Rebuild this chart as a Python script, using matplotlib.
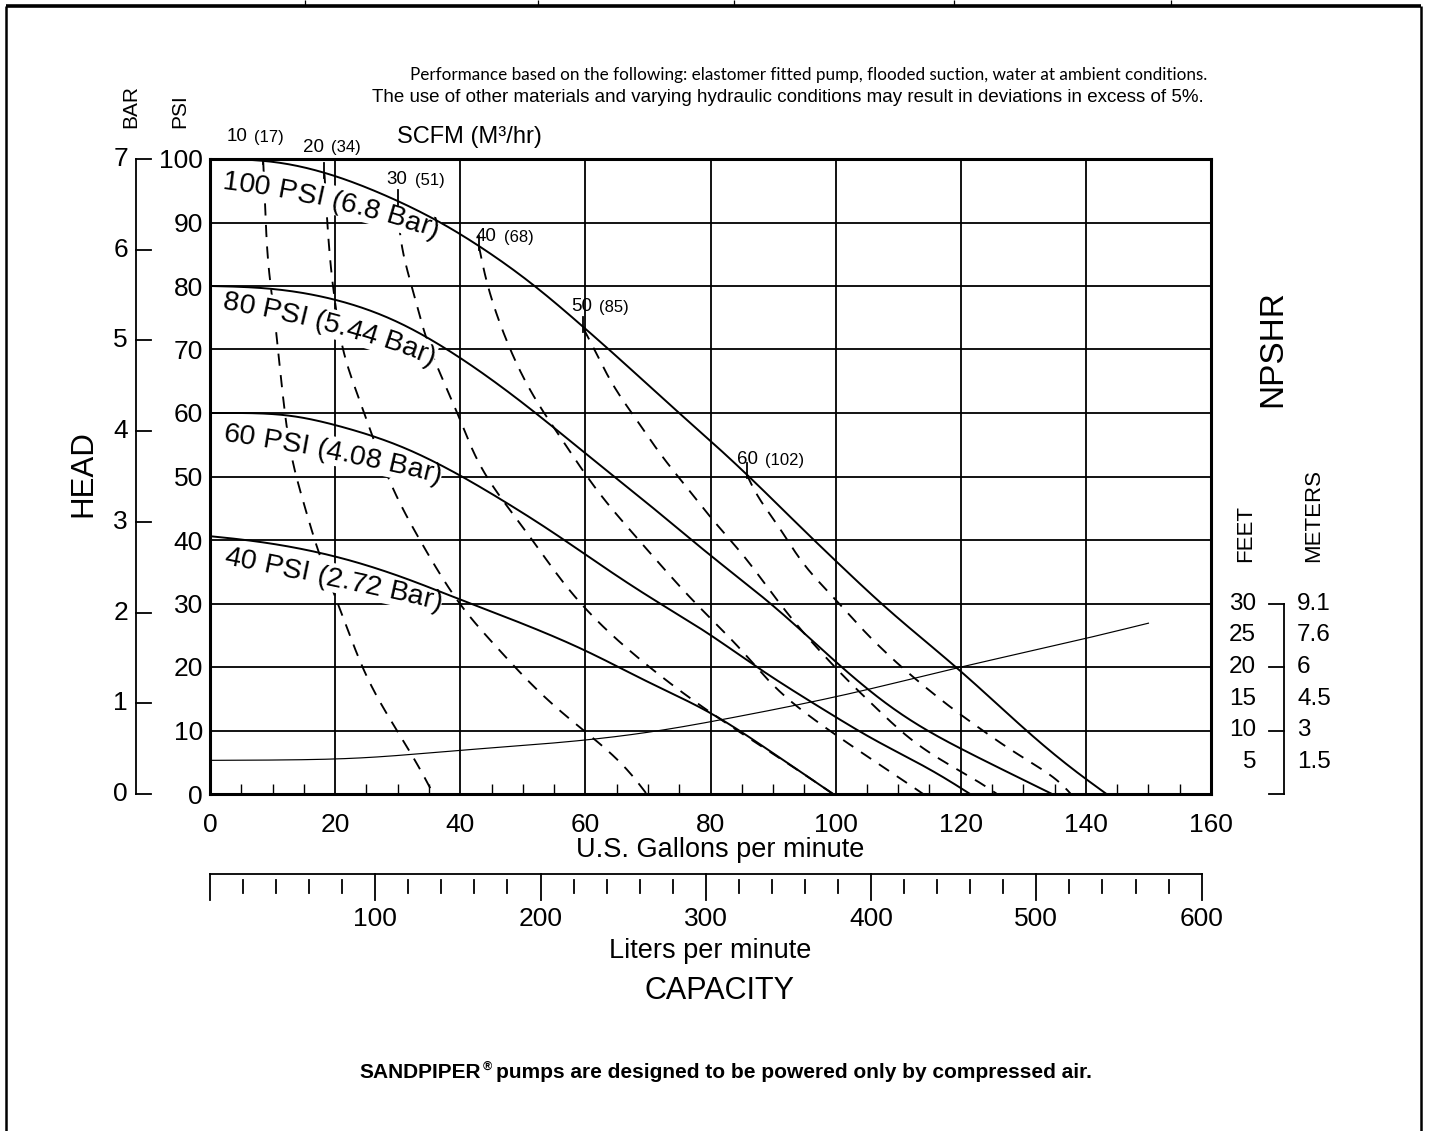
import numpy as np
import matplotlib
matplotlib.use("Agg")
import matplotlib.pyplot as plt
from matplotlib import transforms as mtrans
from matplotlib.lines import Line2D
from matplotlib.patches import Polygon
from matplotlib.font_manager import FontProperties, findfont
from matplotlib.ticker import MultipleLocator

# ---------------- data ----------------
GPM_TICKS = [0, 20, 40, 60, 80, 100, 120, 140, 160]
PSI_TICKS = [0, 10, 20, 30, 40, 50, 60, 70, 80, 90, 100]
BAR_TICKS = [0, 1, 2, 3, 4, 5, 6, 7]
LPM_MAJOR = [0, 100, 200, 300, 400, 500, 600]
LPM_LABELS = [100, 200, 300, 400, 500, 600]
FEET_LABELS = [30, 25, 20, 15, 10, 5]
FEET_TICKS = [30, 20, 10, 0]
METER_LABELS = ["9.1", "7.6", "6", "4.5", "3", "1.5"]

# pump head curves (gpm, psi)
P100_GPM = [0, 8.5, 20, 30, 36.8, 43, 52.2, 60, 64, 74.9, 80, 87.9, 96.4, 100, 107.1, 120, 130.3, 140, 143.3]
P100_PSI = [100, 99.8, 97.3, 93.3, 90.1, 86.2, 79.9, 73.1, 69.9, 59.9, 55.7, 48.4, 40, 36.9, 30, 19.5, 10.1, 2.2, 0]
P80_GPM = [0, 9.6, 20, 30, 36.8, 40.1, 52.2, 60, 64.5, 71.4, 80, 89.8, 100, 110.9, 120, 125.8, 134.6]
P80_PSI = [80, 79.6, 77.8, 74.4, 70.6, 68.6, 59.9, 53.6, 50, 44.7, 37.4, 30, 20.8, 12.2, 7.2, 4.3, 0]
P60_GPM = [0, 11.7, 20, 30, 36.8, 40.1, 47.4, 54.3, 59.7, 71.8, 80, 86.5, 100, 106, 113.5, 120, 121.5]
P60_PSI = [60, 59.8, 58, 55, 51.8, 50.1, 45.8, 41.6, 37.9, 30, 25.2, 20.5, 12.2, 8.5, 4.8, 1.1, 0]
P40_GPM = [0, 10, 20, 30, 40, 50, 60, 70, 80, 90, 99.6]
P40_PSI = [40.6, 39.4, 37.4, 34.4, 30.6, 26.8, 22.6, 17.6, 12.8, 6.4, 0]
PRESSURE_LABELS = ["100 PSI (6.8 Bar)", "80 PSI (5.44 Bar)", "60 PSI (4.08 Bar)", "40 PSI (2.72 Bar)"]

# NPSHR curve (gpm, feet)
NPSH_GPM = [0, 20, 40, 60, 72, 80, 100, 120, 140, 150]
NPSH_FT = [5.3, 5.5, 6.9, 8.5, 10, 11.4, 15.3, 20, 24.5, 26.9]

# air consumption curves (gpm, psi), dashed
SCFM_VALUES = [10, 20, 30, 40, 50, 60]
M3HR_VALUES = [17, 34, 51, 68, 85, 102]
S10_GPM = [8.5, 8.8, 9.4, 9.9, 11.2, 12, 13.1, 14.9, 17.3, 21.3, 25, 29.8, 32.5, 35.7]
S10_PSI = [99.8, 93, 82, 78.8, 66.8, 60, 52.6, 46.3, 38.2, 27.9, 18.5, 10.1, 5.9, 0]
S20_GPM = [18.3, 18.7, 19.4, 20, 21.3, 23.4, 26.1, 29.3, 33, 36.8, 40.5, 46.4, 51.7, 58.1, 65, 69.8]
S20_PSI = [97.6, 90.9, 82, 77.8, 69.4, 63.6, 56, 47.9, 41, 34.7, 29, 22.7, 16.9, 11.1, 5.9, 0]
S30_GPM = [30, 30.6, 32.5, 34.6, 36.8, 39.4, 43.2, 48, 51.6, 57, 63.4, 70.3, 77.8, 84, 90, 95, 99.6]
S30_PSI = [93.3, 86.2, 79.4, 71.5, 66.2, 60.5, 51.5, 44.7, 40, 32.6, 25.8, 20, 14.3, 10.2, 6.3, 3.2, 0]
S40_GPM = [43, 44, 45.6, 47.2, 49, 50.9, 53, 55.7, 58.1, 60.7, 63.4, 66.3, 69, 72.1, 75.2, 78.5, 82.5,
           86.8, 90, 93.8, 96.9, 101.2, 104.4, 108.1, 111.9, 114]
S40_PSI = [86.2, 81.5, 76.2, 72, 67.8, 64.1, 60.5, 56.8, 53.1, 49.4, 45.8, 42.6, 39.5, 36, 32.6, 29, 25.3,
           20.8, 16.9, 13.7, 11.6, 8.5, 6.4, 3.8, 1.7, 0]
S50_GPM = [59.7, 61.3, 63.9, 66.3, 68.7, 71.4, 74, 77, 79.9, 82.6, 85.5, 88.2, 91.1, 93.8, 96.9, 99.9,
           103.4, 106.5, 109.7, 113.5, 117.2, 120.9, 125.2, 125.8]
S50_PSI = [73.3, 70.4, 65.2, 61.5, 58.4, 54.2, 51, 47.4, 43.6, 40.6, 37.4, 33.7, 30, 26.6, 23.2, 20,
           16.4, 13.7, 10.6, 7.4, 4.8, 3.3, 1.1, 0]
S60_GPM = [85.8, 87.9, 90.6, 93, 95.6, 98.6, 101.5, 104.4, 107.6, 111.1, 114.3, 118.3, 122, 125.7, 129.5,
           133.2, 136.9, 137.6]
S60_PSI = [50.3, 46.3, 42.6, 38.9, 35.3, 32.1, 29, 25.8, 22.7, 19.5, 16.9, 13.7, 11.1, 8.5, 5.9, 3.8, 1.1, 0]

NOTE1 = "Performance based on the following: elastomer fitted pump, flooded suction, water at ambient conditions."
NOTE2 = "The use of other materials and varying hydraulic conditions may result in deviations in excess of 5%."

# ---------------- helpers ----------------
W, H, DPI = 1429, 1131, 100
L_PER_GAL = 3.78541
BAR2PSI = 100 / 7


def fx(px):
    return px / W


def fy(py):
    return 1 - py / H


def pchip(x, y, xn):
    x = np.asarray(x, float)
    y = np.asarray(y, float)
    xn = np.asarray(xn, float)
    h = np.diff(x)
    d = np.diff(y) / h
    n = len(x)
    m = np.zeros(n)
    for k in range(1, n - 1):
        if d[k - 1] * d[k] > 0:
            w1 = 2 * h[k] + h[k - 1]
            w2 = h[k] + 2 * h[k - 1]
            m[k] = (w1 + w2) / (w1 / d[k - 1] + w2 / d[k])

    def endslope(h0, h1, d0, d1):
        s = ((2 * h0 + h1) * d0 - h0 * d1) / (h0 + h1)
        if np.sign(s) != np.sign(d0):
            s = 0.0
        elif np.sign(d0) != np.sign(d1) and abs(s) > abs(3 * d0):
            s = 3 * d0
        return s

    m[0] = endslope(h[0], h[1], d[0], d[1])
    m[-1] = endslope(h[-1], h[-2], d[-1], d[-2])
    idx = np.clip(np.searchsorted(x, xn) - 1, 0, n - 2)
    t = (xn - x[idx]) / h[idx]
    h00 = 2 * t ** 3 - 3 * t ** 2 + 1
    h10 = t ** 3 - 2 * t ** 2 + t
    h01 = -2 * t ** 3 + 3 * t ** 2
    h11 = t ** 3 - t ** 2
    return h00 * y[idx] + h10 * h[idx] * m[idx] + h01 * y[idx + 1] + h11 * h[idx] * m[idx + 1]


def smooth(y, lam):
    # Whittaker smoother with pinned end points (removes reading jitter)
    n = len(y)
    D = np.diff(np.eye(n), 2, axis=0)
    w = np.ones(n)
    w[0] = w[-1] = 1e6
    A = np.diag(w) + lam * D.T @ D
    return np.linalg.solve(A, w * y)


def smooth_curve(xp, yp, lam=1.5e4, n=400):
    xx = np.linspace(xp[0], xp[-1], n)
    return xx, smooth(pchip(xp, yp, xx), lam)


plt.rcParams['font.family'] = ['Liberation Sans', 'DejaVu Sans']

fig = plt.figure(figsize=(W / DPI, H / DPI), dpi=DPI)
fig.patch.set_facecolor('white')

AX_L, AX_R, AX_T, AX_B = 210, 1211, 159, 794
ax = fig.add_axes([fx(AX_L), fy(AX_B), (AX_R - AX_L) / W, (AX_B - AX_T) / H])
ax.set_xlim(0, 160)
ax.set_ylim(0, 100)
ax.set_xticks(GPM_TICKS)
ax.set_yticks(PSI_TICKS)
ax.xaxis.set_minor_locator(MultipleLocator(5))
ax.tick_params(axis='both', which='major', length=0, labelsize=19)
ax.tick_params(axis='x', which='major', pad=13.5)
ax.tick_params(axis='y', which='major', pad=5)
ax.tick_params(axis='x', which='minor', direction='in', length=7.5, width=1.0, color='black')
ax.grid(True, which='major', color='black', lw=1.3)
for sp in ax.spines.values():
    sp.set_linewidth(2.2)
    sp.set_color('black')

# solid head curves
for gx, py in [(P100_GPM, P100_PSI), (P80_GPM, P80_PSI), (P60_GPM, P60_PSI), (P40_GPM, P40_PSI)]:
    xx, yy = smooth_curve(gx, py)
    ax.plot(xx, yy, color='black', lw=1.4, zorder=5, solid_capstyle='butt')

# NPSHR
xx, yy = smooth_curve(NPSH_GPM, NPSH_FT)
ax.plot(xx, yy, color='black', lw=0.85, zorder=5)

# dashed air curves (gpm as function of psi)
DASHED = [(S10_GPM, S10_PSI), (S20_GPM, S20_PSI), (S30_GPM, S30_PSI),
          (S40_GPM, S40_PSI), (S50_GPM, S50_PSI), (S60_GPM, S60_PSI)]
for gx, py in DASHED:
    pp, gg = smooth_curve(py[::-1], gx[::-1], lam=1.5e4)
    ax.plot(gg[::-1], pp[::-1], color='black', lw=1.35, dashes=(6.5, 5.0), zorder=3)

# SCFM ticks and labels
num_dx = [-37, -21, -11, -3, -12, -10]
lab_dy = [23.5, 27, 22, 10, 22, 15]
for i, (sv, mv) in enumerate(zip(SCFM_VALUES, M3HR_VALUES)):
    g0, p0 = DASHED[i][0][0], DASHED[i][1][0]
    ax.plot([g0, g0], [p0 - 0.6, p0 + 1.75], color='black', lw=1.3, zorder=5)
    ax.annotate(str(sv), xy=(g0, p0), xytext=(num_dx[i], lab_dy[i]), textcoords='offset pixels',
                ha='left', va='center', fontsize=13.5, zorder=6)
    ax.annotate("(%d)" % mv, xy=(g0, p0), xytext=(num_dx[i] + 28, lab_dy[i] - 0.5), textcoords='offset pixels',
                ha='left', va='center', fontsize=12, zorder=6)

# text along curves
FS_CURVE = 20.5
try:
    from matplotlib.ft2font import FT2Font
    _ft = FT2Font(findfont(FontProperties(family='Liberation Sans')))
    _ft.set_size(FS_CURVE, DPI)

    def adv_px(ch):
        g = _ft.load_char(ord(ch))
        return g.linearHoriAdvance / 65536.0
    adv_px('A')
except Exception:
    from matplotlib.textpath import TextToPath
    _ttp = TextToPath()
    _fp = FontProperties(family='Liberation Sans', size=FS_CURVE)

    def adv_px(ch):
        if ch == ' ':
            return 0.278 * FS_CURVE * DPI / 72
        w, h, d = _ttp.get_text_width_height_descent(ch, _fp, ismath=False)
        return w * DPI / 72

inv = ax.transData.inverted()


def arc_text(label, x0, y0, a0, a1, L):
    advs = np.array([adv_px(c) for c in label])
    scale = L / advs.sum()
    s = np.linspace(0, L, 600)
    ang = np.radians(a0 + (a1 - a0) * s / L)
    ds = s[1] - s[0]
    xs = x0 + np.concatenate([[0], np.cumsum(np.cos(ang[:-1]) * ds)])
    ys = y0 + np.concatenate([[0], np.cumsum(np.sin(ang[:-1]) * ds)])
    nx, ny = np.sin(ang), -np.cos(ang)
    top = np.column_stack([xs + nx * 23, ys + ny * 23])
    bot = np.column_stack([xs - nx * 6, ys - ny * 6])
    poly = np.vstack([top, bot[::-1]])
    poly_d = inv.transform(np.column_stack([poly[:, 0], H - poly[:, 1]]))
    ax.add_patch(Polygon(poly_d, closed=True, fc='white', ec='none', zorder=3.5))
    cum = np.concatenate([[0], np.cumsum(advs)[:-1]])
    for c, c0, a in zip(label, cum, advs):
        if c == ' ':
            continue
        sc = (c0 + a / 2) * scale
        xi = np.interp(sc, s, xs)
        yi = np.interp(sc, s, ys)
        ai = np.interp(sc, s, ang)
        xd, yd = inv.transform((xi, H - yi))
        ax.text(xd, yd, c, fontsize=FS_CURVE, rotation=-np.degrees(ai), rotation_mode='anchor',
                ha='center', va='baseline', zorder=6)


ARC_LAYOUT = [(222, 189, 7, 19, 220), (222, 309, 9, 21, 218), (222, 441, 8, 14, 222), (223, 564, 11, 13, 222)]
for lab, (x0, y0, a0, a1, L) in zip(PRESSURE_LABELS, ARC_LAYOUT):
    arc_text(lab, x0, y0, a0, a1, L)

# ---------------- outer decorations ----------------
def fline(x1, y1, x2, y2, lw=1.5):
    fig.add_artist(Line2D([fx(x1), fx(x2)], [fy(y1), fy(y2)], transform=fig.transFigure,
                          color='black', lw=lw, solid_capstyle='butt'))

# page frame
fline(6, 6, 1421, 6, lw=2.6)
fline(6, 6, 6, H, lw=1.8)
fline(1421, 6, 1421, H, lw=1.8)
for xd in [305, 538, 734, 954, 1171]:
    fline(xd, 0, xd, 5, lw=0.9)

# BAR axis (left)
tby = mtrans.blended_transform_factory(fig.transFigure, ax.transData)
fig.add_artist(Line2D([fx(136)] * 2, [0, BAR_TICKS[-1] * BAR2PSI], transform=tby, color='black', lw=1.3))
for b in BAR_TICKS:
    fig.add_artist(Line2D([fx(136), fx(151)], [b * BAR2PSI] * 2, transform=tby, color='black', lw=1.3))
    fig.text(fx(128), b * BAR2PSI, str(b), transform=tby, ha='right', va='center', fontsize=19)

# NPSHR feet / meters scale (right)
fig.add_artist(Line2D([fx(1284)] * 2, [0, FEET_TICKS[0]], transform=tby, color='black', lw=1.3))
for f in FEET_TICKS:
    fig.add_artist(Line2D([fx(1269), fx(1284)], [f, f], transform=tby, color='black', lw=1.3))
for f, m in zip(FEET_LABELS, METER_LABELS):
    fig.text(fx(1256), f, str(f), transform=tby, ha='right', va='center', fontsize=17.5)
    fig.text(fx(1297), f, m, transform=tby, ha='left', va='center', fontsize=17.5)

# liters per minute scale (below)
tlx = mtrans.blended_transform_factory(ax.transData, fig.transFigure)
fig.add_artist(Line2D([0, LPM_MAJOR[-1] / L_PER_GAL], [fy(874)] * 2, transform=tlx, color='black', lw=1.3))
for L in range(0, LPM_MAJOR[-1] + 1, 20):
    g = L / L_PER_GAL
    if L in LPM_MAJOR:
        fig.add_artist(Line2D([g, g], [fy(874), fy(900)], transform=tlx, color='black', lw=1.3))
    else:
        fig.add_artist(Line2D([g, g], [fy(880), fy(893)], transform=tlx, color='black', lw=1.3))
for L in LPM_LABELS:
    fig.text(L / L_PER_GAL, fy(919), str(L), transform=tlx, ha='center', va='center', fontsize=19)

# axis titles
fig.text(fx(720), fy(850), "U.S. Gallons per minute", ha='center', va='center', fontsize=19.5)
fig.text(fx(710), fy(951), "Liters per minute", ha='center', va='center', fontsize=19.5)
fig.text(fx(719), fy(991), "CAPACITY", ha='center', va='center', fontsize=22)
fig.text(fx(83), fy(474), "HEAD", ha='center', va='center', rotation=90, fontsize=22.5)
fig.text(fx(1273), fy(349), "NPSHR", ha='center', va='center', rotation=90, fontsize=24)
fig.text(fx(1246), fy(562), "FEET", ha='center', va='bottom', rotation=90, fontsize=16)
fig.text(fx(1314), fy(562), "METERS", ha='center', va='bottom', rotation=90, fontsize=16)
fig.text(fx(131), fy(128), "BAR", ha='center', va='bottom', rotation=90, fontsize=15)
fig.text(fx(180), fy(128), "PSI", ha='center', va='bottom', rotation=90, fontsize=15)
fig.text(fx(397), fy(137), "SCFM (M³/hr)", ha='left', va='center', fontsize=17)

renderer = fig.canvas.get_renderer()


def fit_text(x_px, y_px, s, width_px, **kw):
    t = fig.text(fx(x_px), fy(y_px), s, ha='left', va='center', fontsize=12, **kw)
    w = t.get_window_extent(renderer).width
    t.set_fontsize(12 * width_px / w)
    return t


fit_text(410, 75, NOTE1, 795, family=['Lato', 'DejaVu Sans'])
fit_text(372, 97, NOTE2, 836)

# bottom statement with small superscript registered mark
fsb = 15
t1 = fig.text(0, fy(1072), "SANDPIPER", fontsize=fsb, fontweight='bold', ha='left', va='center')
t2 = fig.text(0, fy(1067), "®", fontsize=fsb * 0.6, fontweight='bold', ha='left', va='center')
t3 = fig.text(0, fy(1072), "pumps are designed to be powered only by compressed air.", fontsize=fsb,
              fontweight='bold', ha='left', va='center')
w1 = t1.get_window_extent(renderer).width
w2 = t2.get_window_extent(renderer).width
w3 = t3.get_window_extent(renderer).width
gap = 0.28 * fsb * DPI / 72
total = w1 + w2 + gap + w3
xs0 = 726 - total / 2
t1.set_x(fx(xs0))
t2.set_x(fx(xs0 + w1 + 1))
t3.set_x(fx(xs0 + w1 + w2 + gap))

fig.savefig("out.png", dpi=DPI, facecolor='white')
